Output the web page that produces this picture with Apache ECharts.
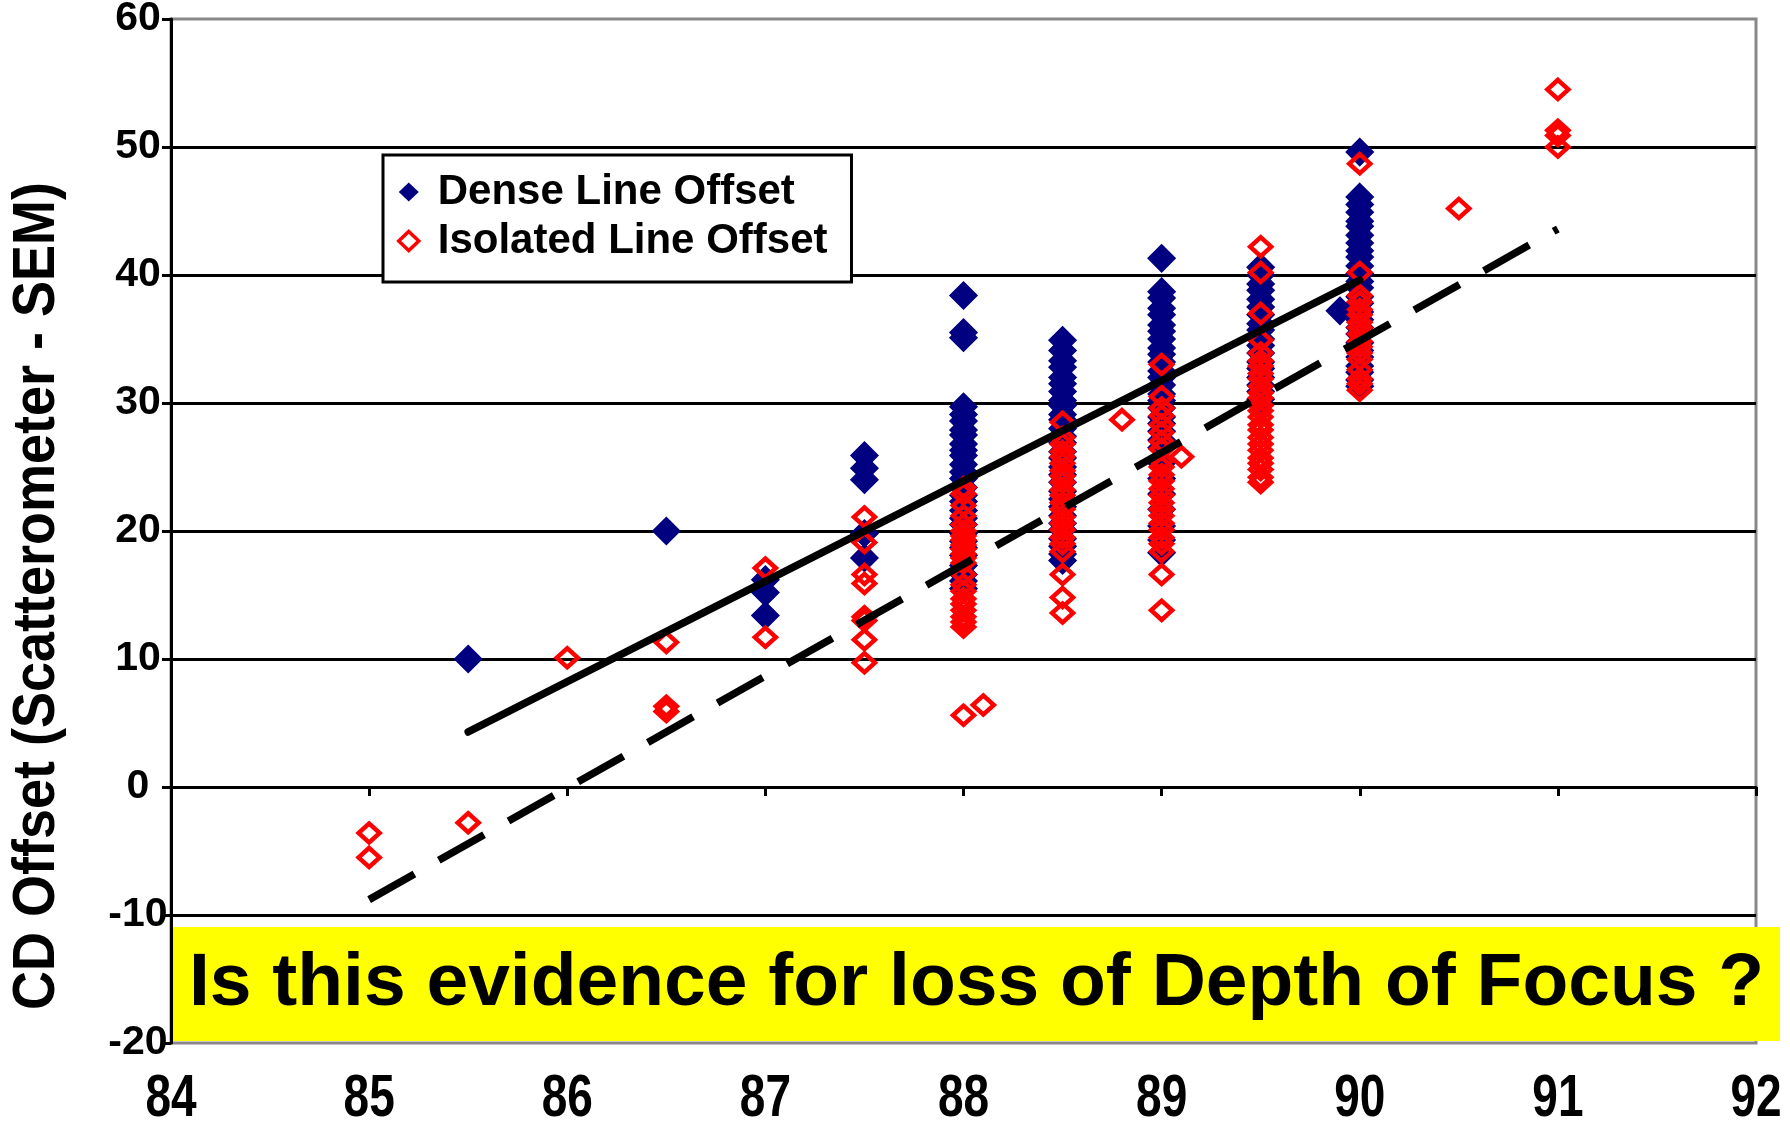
<!DOCTYPE html>
<html>
<head>
<meta charset="utf-8">
<script src="https://cdn.jsdelivr.net/npm/echarts@6/dist/echarts.min.js"></script>
<style>
  html, body { margin: 0; padding: 0; background: #ffffff; }
  #chart { width: 1790px; height: 1121px; }
</style>
</head>
<body>
<div id="chart"></div>
<script>
// Axis ranges and tick labels
const xTicks = [84, 85, 86, 87, 88, 89, 90, 91, 92];
const xMin = 84, xMax = 92, xStep = 1;
const yMin = -20, yMax = 60, yStep = 10;

// CD offset (scatterometer - SEM) for dense lines: [focus setting, offset]
const denseLineOffset = [
  [85.5, 10.0],
  [86.5, 20.0],
  [87, 16.2], [87, 15.2], [87, 13.4],
  [87.5, 25.9], [87.5, 24.9], [87.5, 24.0], [87.5, 19.8], [87.5, 17.9],
  [88, 38.4], [88, 35.5], [88, 35.1], [88, 29.7], [88, 29.1], [88, 28.6], [88, 27.9], [88, 27.5],
  [88, 26.8], [88, 26.3], [88, 25.9], [88, 25.2], [88, 24.6], [88, 24.1], [88, 23.4], [88, 22.8],
  [88, 22.3], [88, 21.6], [88, 21.0], [88, 20.5], [88, 19.8], [88, 19.2], [88, 18.7], [88, 18.1],
  [88, 17.3], [88, 16.6], [88, 16.1], [88, 15.5],
  [88.5, 34.9], [88.5, 34.1], [88.5, 33.3], [88.5, 32.8], [88.5, 32.0], [88.5, 31.5], [88.5, 30.9],
  [88.5, 30.2], [88.5, 29.8], [88.5, 29.1], [88.5, 28.7], [88.5, 28.0], [88.5, 27.4], [88.5, 26.9],
  [88.5, 26.2], [88.5, 25.7], [88.5, 25.0], [88.5, 24.4], [88.5, 23.8], [88.5, 23.1], [88.5, 22.5],
  [88.5, 21.9], [88.5, 21.2], [88.5, 20.6], [88.5, 20.1], [88.5, 19.4], [88.5, 18.8], [88.5, 18.2],
  [88.5, 17.7],
  [89, 41.3], [89, 38.7], [89, 38.2], [89, 37.4], [89, 36.9], [89, 36.1], [89, 35.6], [89, 35.0],
  [89, 34.3], [89, 33.8], [89, 33.2], [89, 32.5], [89, 32.0], [89, 31.4], [89, 30.7], [89, 30.2],
  [89, 29.6], [89, 28.9], [89, 28.4], [89, 27.8], [89, 27.1], [89, 26.5], [89, 25.3], [89, 24.1],
  [89, 22.9], [89, 21.7], [89, 20.4], [89, 19.3], [89, 18.3],
  [89.5, 40.6], [89.5, 40.0], [89.5, 39.3], [89.5, 38.8], [89.5, 38.1], [89.5, 37.5], [89.5, 36.9],
  [89.5, 36.2], [89.5, 35.7], [89.5, 35.0], [89.5, 34.5], [89.5, 33.9], [89.5, 33.2], [89.5, 32.7],
  [89.5, 32.0], [89.5, 31.4], [89.5, 30.9], [89.5, 30.3],
  [89.9, 37.2],
  [90, 49.6], [90, 46.1], [90, 45.5], [90, 44.9], [90, 44.2], [90, 43.8], [90, 43.1], [90, 42.5],
  [90, 41.9], [90, 41.4], [90, 40.7], [90, 40.1], [90, 39.5], [90, 39.0], [90, 38.3], [90, 37.8],
  [90, 37.1], [90, 36.5], [90, 35.9], [90, 35.4], [90, 34.7], [90, 34.1], [90, 33.6], [90, 32.9],
  [90, 32.4], [90, 31.8], [90, 31.3]
];

// CD offset for isolated lines: [focus setting, offset]
const isolatedLineOffset = [
  [85, -3.6], [85, -5.5],
  [85.5, -2.8],
  [86, 10.1],
  [86.5, 11.3], [86.5, 6.3], [86.5, 5.9],
  [87, 17.1], [87, 11.7],
  [87.5, 21.1], [87.5, 19.1], [87.5, 16.6], [87.5, 15.9], [87.5, 13.3], [87.5, 13.0], [87.5, 11.5], [87.5, 9.7],
  [88, 23.4], [88, 22.9], [88, 22.0], [88, 21.2], [88, 20.5], [88, 20.0], [88, 19.6], [88, 19.3],
  [88, 18.9], [88, 18.6], [88, 18.2], [88, 17.9], [88, 17.5], [88, 16.6], [88, 15.8], [88, 15.3],
  [88, 14.7], [88, 14.3], [88, 13.8], [88, 13.3], [88, 12.9], [88, 12.5], [88, 5.6],
  [88.1, 6.4],
  [88.5, 28.5], [88.5, 27.3], [88.5, 26.8], [88.5, 26.2], [88.5, 25.8], [88.5, 25.3], [88.5, 24.7],
  [88.5, 24.3], [88.5, 23.8], [88.5, 23.2], [88.5, 22.8], [88.5, 22.2], [88.5, 21.7], [88.5, 21.1],
  [88.5, 20.6], [88.5, 20.1], [88.5, 19.5], [88.5, 19.0], [88.5, 18.4], [88.5, 16.6], [88.5, 14.8],
  [88.5, 13.6],
  [88.8, 28.7],
  [89, 33.0], [89, 30.5], [89, 29.6], [89, 29.0], [89, 28.3], [89, 27.7], [89, 27.0], [89, 26.4],
  [89, 25.5], [89, 25.0], [89, 24.4], [89, 23.9], [89, 23.3], [89, 22.8], [89, 22.2], [89, 21.7],
  [89, 21.2], [89, 20.6], [89, 20.1], [89, 19.5], [89, 19.0], [89, 18.4], [89, 16.6], [89, 13.8],
  [89.1, 25.8],
  [89.5, 42.2], [89.5, 40.2], [89.5, 37.0], [89.5, 34.9], [89.5, 33.9], [89.5, 33.3], [89.5, 32.9],
  [89.5, 32.3], [89.5, 31.9], [89.5, 31.3], [89.5, 30.8], [89.5, 30.4], [89.5, 29.8], [89.5, 29.4],
  [89.5, 28.9], [89.5, 28.3], [89.5, 27.9], [89.5, 27.3], [89.5, 26.8], [89.5, 26.3], [89.5, 25.7],
  [89.5, 25.3], [89.5, 24.8], [89.5, 24.2], [89.5, 23.8],
  [90, 48.7], [90, 40.2], [90, 38.4], [90, 37.9], [90, 37.3], [90, 36.9], [90, 36.3], [90, 35.9],
  [90, 35.4], [90, 34.8], [90, 34.4], [90, 33.9], [90, 33.4], [90, 32.6], [90, 31.9], [90, 31.5],
  [90, 31.0],
  [90.5, 45.2],
  [91, 54.5], [91, 51.3], [91, 50.9], [91, 50.0]
];

// Linear trend lines, given by their end points
const denseTrend = [[85.5, 4.3], [90, 39.6]];
const isolatedTrend = [[85, -8.8], [91, 43.6]];

const FONT = '"Liberation Sans", Arial, Helvetica, sans-serif';
const DENSE_COLOR = '#000080';
const ISO_COLOR = '#ff0000';

const chart = echarts.init(document.getElementById('chart'), null, { renderer: 'canvas' });

const option = {
  backgroundColor: '#ffffff',
  animation: false,
  grid: {
    left: 171, top: 19, right: 34, bottom: 78,
    containLabel: false,
    outerBoundsMode: 'none',
    show: true,
    borderColor: '#888888',
    borderWidth: 3,
    backgroundColor: 'transparent'
  },
  legend: {
    orient: 'vertical',
    left: 383, top: 155,
    padding: [15, 24, 19, 14],
    itemWidth: 20, itemHeight: 19, itemGap: 5,
    backgroundColor: '#ffffff',
    borderColor: '#000000', borderWidth: 3,
    selectedMode: false,
    textStyle: {
      fontFamily: FONT, fontSize: 42, fontWeight: 'bold', color: '#000',
      lineHeight: 44, padding: [0, 0, 0, 14]
    },
    data: [
      { name: 'Dense Line Offset', icon: 'diamond',
        itemStyle: { color: DENSE_COLOR, borderWidth: 0 } },
      { name: 'Isolated Line Offset', icon: 'diamond',
        itemStyle: { color: 'transparent', borderColor: ISO_COLOR, borderWidth: 3.5, borderJoin: 'miter' } }
    ]
  },
  xAxis: {
    type: 'value',
    min: xMin, max: xMax, interval: xStep,
    axisLine: { show: true, onZero: true, lineStyle: { color: '#000', width: 3 } },
    axisTick: { show: true, inside: false, length: 9, lineStyle: { color: '#000', width: 3 } },
    axisLabel: { show: false },
    splitLine: { show: false }
  },
  yAxis: {
    type: 'value',
    min: yMin, max: yMax, interval: yStep,
    axisLine: { show: true, onZero: false, lineStyle: { color: '#000', width: 3 } },
    axisTick: { show: true, inside: false, length: 9, lineStyle: { color: '#000', width: 3 } },
    axisLabel: {
      fontFamily: FONT, fontSize: 41, fontWeight: 'bold', color: '#000',
      align: 'center', margin: 33, padding: [14, 0, 0, 0]
    },
    splitLine: {
      show: true, showMinLine: false, showMaxLine: false,
      lineStyle: { color: '#000', width: 3 }
    }
  },
  series: [
    {
      name: 'Dense Line Offset',
      type: 'scatter',
      symbol: 'diamond',
      symbolSize: 27,
      itemStyle: { color: DENSE_COLOR, borderColor: DENSE_COLOR, borderWidth: 1.5, borderJoin: 'miter', opacity: 1 },
      data: denseLineOffset
    },
    {
      name: 'Isolated Line Offset',
      type: 'scatter',
      symbol: 'diamond',
      symbolSize: [21, 19],
      itemStyle: { color: 'transparent', borderColor: ISO_COLOR, borderWidth: 4.5, borderJoin: 'miter', opacity: 1 },
      data: isolatedLineOffset
    },
    {
      name: 'Dense trend',
      type: 'line',
      symbol: 'none',
      silent: true,
      lineStyle: { color: '#000', width: 7.5, cap: 'round' },
      data: denseTrend
    },
    {
      name: 'Isolated trend',
      type: 'line',
      symbol: 'none',
      silent: true,
      lineStyle: { color: '#000', width: 7.5, type: [52, 28], cap: 'butt' },
      data: isolatedTrend
    }
  ]
};

chart.setOption(option);

// X tick labels sit below the plot (the axis line itself crosses at zero);
// they are placed through the axis scale and drawn slightly tall.
const xLabels = xTicks.map(function (v) {
  const p = chart.convertToPixel({ gridIndex: 0 }, [v, yMin]);
  return {
    type: 'text',
    x: p[0], y: p[1] + 57,
    scaleY: 1.3,
    z: 50,
    style: {
      text: String(v),
      font: 'bold 46px ' + FONT,
      fill: '#000',
      align: 'center',
      verticalAlign: 'middle'
    }
  };
});

const bottomLeft = chart.convertToPixel({ gridIndex: 0 }, [xMin, yMin]);

chart.setOption({
  graphic: xLabels.concat([
    {
      type: 'text',
      x: 38, y: 596,
      rotation: Math.PI / 2,
      scaleY: 1.08,
      z: 50,
      style: {
        text: 'CD Offset (Scatterometer - SEM)',
        font: 'bold 54px ' + FONT,
        fill: '#000',
        align: 'center',
        verticalAlign: 'middle'
      }
    },
    {
      type: 'rect',
      z: 100,
      shape: { x: bottomLeft[0] + 2, y: 927, width: 1607, height: 114 },
      style: { fill: '#ffff00' }
    },
    {
      type: 'text',
      z: 101,
      x: bottomLeft[0] + 2 + 1607 / 2, y: 984,
      style: {
        text: 'Is this evidence for loss of Depth of Focus ?',
        font: 'bold 75px ' + FONT,
        fill: '#000',
        align: 'center',
        verticalAlign: 'middle'
      }
    }
  ])
});
</script>
</body>
</html>
